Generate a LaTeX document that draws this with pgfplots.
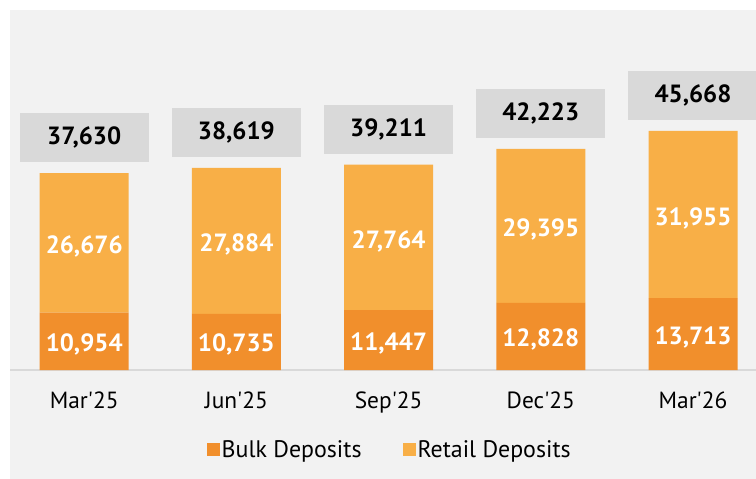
\documentclass[border=0pt]{standalone}
\usepackage{fontspec}
\setmainfont{PT Sans}
\usepackage{pgfplots}
\pgfplotsset{compat=1.18}
\definecolor{bulk}{HTML}{F18F2C}
\definecolor{retail}{HTML}{F8AF47}
\definecolor{panel}{HTML}{F2F2F2}
\definecolor{boxgray}{HTML}{D9D9D9}
\pgfplotsset{sqlegend/.style={legend image code/.code={\fill[##1] (0bp,-6.5bp) rectangle (13bp,6.5bp);}},
  common/.style={
    at={(10bp,109bp)}, anchor=south west,
    width=746bp, height=360bp, scale only axis,
    xmin=-0.4875, xmax=4.414, ymin=0, ymax=68770,
    clip=false,
    /pgf/number format/assume math mode=true,
    /pgf/number format/1000 sep={,},
  }}
\begin{document}
\begin{tikzpicture}
\useasboundingbox (0,0) rectangle (756bp,479bp);
\fill[panel] (10bp,0) rectangle (756bp,469bp);
\begin{axis}[common,
  ybar stacked, bar width=89bp,
  axis x line=bottom, axis y line=none,
  x axis line style={draw=boxgray, line width=2bp, -},
  xtick={0,1,2,3,4},
  xticklabels={Mar\textquotesingle25,Jun\textquotesingle25,Sep\textquotesingle25,Dec\textquotesingle25,Mar\textquotesingle26},
  major tick length=0pt,
  xticklabel style={font=\fontsize{23.5}{28}\selectfont, yshift=-18bp},
  legend style={at={(0.509,-0.222)}, anchor=center, draw=none, fill=none,
    legend columns=2, font=\fontsize{24}{28}\selectfont,
    /tikz/every even column/.style={column sep=39bp}},
]
\addplot[fill=bulk, draw=none, sqlegend,
  nodes near coords,
  every node near coord/.append style={anchor=center, text=white, yshift=-3bp,
    font=\bfseries\fontsize{25}{30}\selectfont}]
  coordinates {(0,10954) (1,10735) (2,11447) (3,12828) (4,13713)};
\addplot[fill=retail, draw=none, sqlegend,
  nodes near coords,
  every node near coord/.append style={anchor=center, text=white, yshift=-4bp,
    font=\bfseries\fontsize{25}{30}\selectfont}]
  coordinates {(0,26676) (1,27884) (2,27764) (3,29395) (4,31955)};
\legend{Bulk Deposits, Retail Deposits}
\end{axis}
\begin{axis}[common, axis lines=none, ybar, bar width=89bp]
\addplot[fill=none, draw=none,
  nodes near coords,
  every node near coord/.style={fill=boxgray, text=black, anchor=south,
    minimum width=129bp, minimum height=49bp, inner sep=0pt, yshift=11bp,
    font=\bfseries\fontsize{25}{30}\selectfont}]
  coordinates {(0,37630) (1,38619) (2,39211) (3,42223) (4,45668)};
\end{axis}
\end{tikzpicture}
\end{document}
